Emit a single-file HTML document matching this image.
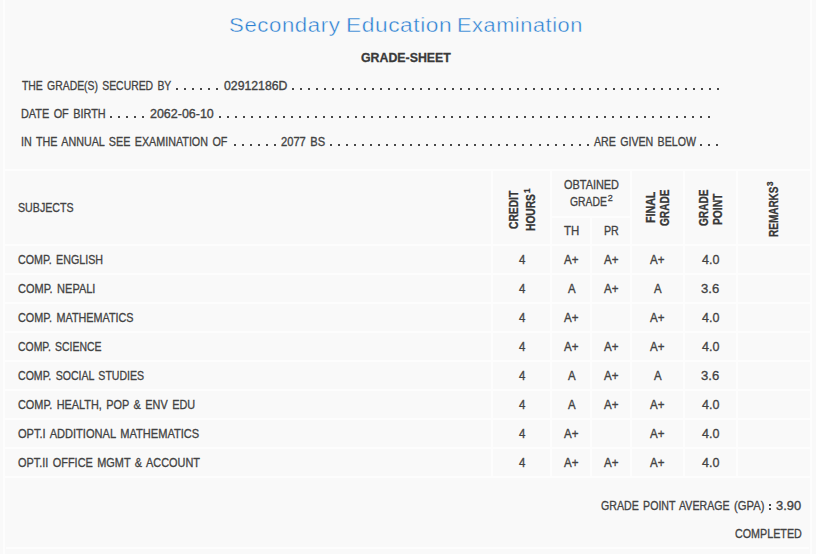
<!DOCTYPE html>
<html>
<head>
<meta charset="utf-8">
<style>
html,body{margin:0;padding:0;}
body{width:816px;height:554px;overflow:hidden;background:#f9f9f9;font-family:"Liberation Sans",sans-serif;position:relative;}
.t{position:absolute;white-space:nowrap;transform-origin:0 0;word-spacing:1.6px;-webkit-text-stroke:0.3px;}
.b{position:absolute;background:#fdfdfd;}
</style>
</head>
<body>
<!-- frame lines -->
<div class="b" style="left:3px;top:0;width:2px;height:554px"></div>
<div class="b" style="left:810px;top:0;width:2px;height:554px"></div>
<div class="b" style="left:6px;top:546.5px;width:803px;height:2px"></div>
<!-- table borders -->
<div class="b" style="left:5px;top:169px;width:805px;height:2px"></div>
<div class="b" style="left:5px;top:244px;width:805px;height:2px"></div>
<div class="b" style="left:5px;top:273px;width:805px;height:2px"></div>
<div class="b" style="left:5px;top:302px;width:805px;height:2px"></div>
<div class="b" style="left:5px;top:331px;width:805px;height:2px"></div>
<div class="b" style="left:5px;top:360px;width:805px;height:2px"></div>
<div class="b" style="left:5px;top:389px;width:805px;height:2px"></div>
<div class="b" style="left:5px;top:418px;width:805px;height:2px"></div>
<div class="b" style="left:5px;top:447px;width:805px;height:2px"></div>
<div class="b" style="left:5px;top:476px;width:805px;height:2px"></div>
<div class="b" style="left:551px;top:216px;width:81px;height:2px"></div>
<div class="b" style="left:491px;top:170px;width:2px;height:308px"></div>
<div class="b" style="left:550px;top:170px;width:2px;height:308px"></div>
<div class="b" style="left:590px;top:217px;width:2px;height:261px"></div>
<div class="b" style="left:630px;top:170px;width:2px;height:308px"></div>
<div class="b" style="left:683px;top:170px;width:2px;height:308px"></div>
<div class="b" style="left:736px;top:170px;width:2px;height:308px"></div>
<svg style="position:absolute;left:0;top:0" width="816" height="554" shape-rendering="crispEdges"><path fill="#484848" d="M176 88h2v2h-2zM184 88h2v2h-2zM192 88h2v2h-2zM200 88h2v2h-2zM208 88h2v2h-2zM216 88h2v2h-2zM292 88h2v2h-2zM300 88h2v2h-2zM308 88h2v2h-2zM316 88h2v2h-2zM324 88h2v2h-2zM332 88h2v2h-2zM340 88h2v2h-2zM348 88h2v2h-2zM356 88h2v2h-2zM364 88h2v2h-2zM372 88h2v2h-2zM380 88h2v2h-2zM388 88h2v2h-2zM396 88h2v2h-2zM404 88h2v2h-2zM412 88h2v2h-2zM420 88h2v2h-2zM428 88h2v2h-2zM436 88h2v2h-2zM444 88h2v2h-2zM452 88h2v2h-2zM460 88h2v2h-2zM468 88h2v2h-2zM476 88h2v2h-2zM484 88h2v2h-2zM492 88h2v2h-2zM501 88h2v2h-2zM509 88h2v2h-2zM517 88h2v2h-2zM525 88h2v2h-2zM533 88h2v2h-2zM541 88h2v2h-2zM549 88h2v2h-2zM557 88h2v2h-2zM565 88h2v2h-2zM573 88h2v2h-2zM581 88h2v2h-2zM589 88h2v2h-2zM597 88h2v2h-2zM605 88h2v2h-2zM613 88h2v2h-2zM621 88h2v2h-2zM629 88h2v2h-2zM637 88h2v2h-2zM645 88h2v2h-2zM653 88h2v2h-2zM661 88h2v2h-2zM669 88h2v2h-2zM677 88h2v2h-2zM685 88h2v2h-2zM693 88h2v2h-2zM701 88h2v2h-2zM709 88h2v2h-2zM717 88h2v2h-2zM110 116h2v2h-2zM118 116h2v2h-2zM126 116h2v2h-2zM134 116h2v2h-2zM142 116h2v2h-2zM219 116h2v2h-2zM227 116h2v2h-2zM235 116h2v2h-2zM243 116h2v2h-2zM251 116h2v2h-2zM259 116h2v2h-2zM267 116h2v2h-2zM275 116h2v2h-2zM283 116h2v2h-2zM291 116h2v2h-2zM299 116h2v2h-2zM307 116h2v2h-2zM315 116h2v2h-2zM323 116h2v2h-2zM331 116h2v2h-2zM339 116h2v2h-2zM347 116h2v2h-2zM355 116h2v2h-2zM363 116h2v2h-2zM371 116h2v2h-2zM379 116h2v2h-2zM387 116h2v2h-2zM395 116h2v2h-2zM403 116h2v2h-2zM411 116h2v2h-2zM419 116h2v2h-2zM427 116h2v2h-2zM435 116h2v2h-2zM443 116h2v2h-2zM451 116h2v2h-2zM459 116h2v2h-2zM467 116h2v2h-2zM476 116h2v2h-2zM484 116h2v2h-2zM492 116h2v2h-2zM500 116h2v2h-2zM508 116h2v2h-2zM516 116h2v2h-2zM524 116h2v2h-2zM532 116h2v2h-2zM540 116h2v2h-2zM548 116h2v2h-2zM556 116h2v2h-2zM564 116h2v2h-2zM572 116h2v2h-2zM580 116h2v2h-2zM588 116h2v2h-2zM596 116h2v2h-2zM604 116h2v2h-2zM612 116h2v2h-2zM620 116h2v2h-2zM628 116h2v2h-2zM636 116h2v2h-2zM644 116h2v2h-2zM652 116h2v2h-2zM660 116h2v2h-2zM668 116h2v2h-2zM676 116h2v2h-2zM684 116h2v2h-2zM692 116h2v2h-2zM700 116h2v2h-2zM708 116h2v2h-2zM234 144h2v2h-2zM242 144h2v2h-2zM250 144h2v2h-2zM258 144h2v2h-2zM266 144h2v2h-2zM274 144h2v2h-2zM330 144h2v2h-2zM338 144h2v2h-2zM346 144h2v2h-2zM354 144h2v2h-2zM362 144h2v2h-2zM370 144h2v2h-2zM378 144h2v2h-2zM386 144h2v2h-2zM394 144h2v2h-2zM402 144h2v2h-2zM410 144h2v2h-2zM418 144h2v2h-2zM426 144h2v2h-2zM434 144h2v2h-2zM442 144h2v2h-2zM450 144h2v2h-2zM458 144h2v2h-2zM466 144h2v2h-2zM474 144h2v2h-2zM482 144h2v2h-2zM490 144h2v2h-2zM498 144h2v2h-2zM506 144h2v2h-2zM514 144h2v2h-2zM522 144h2v2h-2zM530 144h2v2h-2zM539 144h2v2h-2zM547 144h2v2h-2zM555 144h2v2h-2zM563 144h2v2h-2zM571 144h2v2h-2zM579 144h2v2h-2zM587 144h2v2h-2zM700 144h2v2h-2zM708 144h2v2h-2zM716 144h2v2h-2zM769 504h2v2h-2zM769 508h2v2h-2z"/></svg>
<span class="t" style="left:229.18px;top:15px;font-size:20px;line-height:20px;color:#2b7fd2;letter-spacing:0.5px;-webkit-text-stroke:0.4px #f9f9f9;transform:scaleX(1.1118);">Secondary</span>
<span class="t" style="left:346.34px;top:15px;font-size:20px;line-height:20px;color:#2b7fd2;letter-spacing:0.5px;-webkit-text-stroke:0.4px #f9f9f9;transform:scaleX(1.1372);">Education</span>
<span class="t" style="left:456.84px;top:15px;font-size:20px;line-height:20px;color:#2b7fd2;letter-spacing:0.5px;-webkit-text-stroke:0.4px #f9f9f9;transform:scaleX(1.0889);">Examination</span>
<span class="t" style="left:361.00px;top:51px;font-size:13px;line-height:13px;color:#3a3a3a;font-weight:bold;transform:scaleX(0.9500);">GRADE-SHEET</span>
<span class="t" style="left:22.00px;top:80px;font-size:12px;line-height:12px;color:#434343;transform:scaleX(0.8671);">THE GRADE(S) SECURED BY</span>
<span class="t" style="left:223.89px;top:80px;font-size:12px;line-height:12px;color:#434343;-webkit-text-stroke:0.33px;transform:scaleX(1.0218);">02912186D</span>
<span class="t" style="left:21.15px;top:108px;font-size:12px;line-height:12px;color:#434343;transform:scaleX(0.9060);">DATE OF BIRTH</span>
<span class="t" style="left:149.65px;top:108px;font-size:12px;line-height:12px;color:#434343;-webkit-text-stroke:0.33px;transform:scaleX(1.0386);">2062-06-10</span>
<span class="t" style="left:21.30px;top:136px;font-size:12px;line-height:12px;color:#434343;transform:scaleX(0.8951);">IN THE ANNUAL SEE EXAMINATION OF</span>
<span class="t" style="left:281.33px;top:136px;font-size:12px;line-height:12px;color:#434343;-webkit-text-stroke:0.33px;transform:scaleX(0.9281);">2077 BS</span>
<span class="t" style="left:593.50px;top:136px;font-size:12px;line-height:12px;color:#434343;transform:scaleX(0.8845);">ARE GIVEN BELOW</span>
<span class="t" style="left:18.28px;top:202px;font-size:12px;line-height:12px;color:#434343;transform:scaleX(0.8867);">SUBJECTS</span>
<span class="t" style="left:17.82px;top:254px;font-size:12px;line-height:12px;color:#434343;transform:scaleX(0.8920);">COMP. ENGLISH</span>
<span class="t" style="left:518.80px;top:254px;font-size:12px;line-height:12px;color:#434343;-webkit-text-stroke:0.33px;transform:scaleX(0.9500);">4</span>
<span class="t" style="left:564.15px;top:254px;font-size:12px;line-height:12px;color:#434343;-webkit-text-stroke:0.33px;transform:scaleX(0.9595);">A+</span>
<span class="t" style="left:604.15px;top:254px;font-size:12px;line-height:12px;color:#434343;-webkit-text-stroke:0.33px;transform:scaleX(0.9595);">A+</span>
<span class="t" style="left:650.15px;top:254px;font-size:12px;line-height:12px;color:#434343;-webkit-text-stroke:0.33px;transform:scaleX(0.9595);">A+</span>
<span class="t" style="left:701.50px;top:254px;font-size:12px;line-height:12px;color:#434343;-webkit-text-stroke:0.3px;transform:scaleX(1.0435);">4.0</span>
<span class="t" style="left:17.95px;top:283px;font-size:12px;line-height:12px;color:#434343;transform:scaleX(0.9158);">COMP. NEPALI</span>
<span class="t" style="left:518.80px;top:283px;font-size:12px;line-height:12px;color:#434343;-webkit-text-stroke:0.33px;transform:scaleX(0.9500);">4</span>
<span class="t" style="left:567.90px;top:283px;font-size:12px;line-height:12px;color:#434343;-webkit-text-stroke:0.33px;transform:scaleX(0.9500);">A</span>
<span class="t" style="left:604.15px;top:283px;font-size:12px;line-height:12px;color:#434343;-webkit-text-stroke:0.33px;transform:scaleX(0.9595);">A+</span>
<span class="t" style="left:653.90px;top:283px;font-size:12px;line-height:12px;color:#434343;-webkit-text-stroke:0.33px;transform:scaleX(0.9500);">A</span>
<span class="t" style="left:701.16px;top:283px;font-size:12px;line-height:12px;color:#434343;-webkit-text-stroke:0.3px;transform:scaleX(1.0914);">3.6</span>
<span class="t" style="left:17.92px;top:312px;font-size:12px;line-height:12px;color:#434343;transform:scaleX(0.9008);">COMP. MATHEMATICS</span>
<span class="t" style="left:518.80px;top:312px;font-size:12px;line-height:12px;color:#434343;-webkit-text-stroke:0.33px;transform:scaleX(0.9500);">4</span>
<span class="t" style="left:564.15px;top:312px;font-size:12px;line-height:12px;color:#434343;-webkit-text-stroke:0.33px;transform:scaleX(0.9595);">A+</span>
<span class="t" style="left:650.15px;top:312px;font-size:12px;line-height:12px;color:#434343;-webkit-text-stroke:0.33px;transform:scaleX(0.9595);">A+</span>
<span class="t" style="left:701.50px;top:312px;font-size:12px;line-height:12px;color:#434343;-webkit-text-stroke:0.3px;transform:scaleX(1.0435);">4.0</span>
<span class="t" style="left:17.71px;top:341px;font-size:12px;line-height:12px;color:#434343;transform:scaleX(0.8689);">COMP. SCIENCE</span>
<span class="t" style="left:518.80px;top:341px;font-size:12px;line-height:12px;color:#434343;-webkit-text-stroke:0.33px;transform:scaleX(0.9500);">4</span>
<span class="t" style="left:564.15px;top:341px;font-size:12px;line-height:12px;color:#434343;-webkit-text-stroke:0.33px;transform:scaleX(0.9595);">A+</span>
<span class="t" style="left:604.15px;top:341px;font-size:12px;line-height:12px;color:#434343;-webkit-text-stroke:0.33px;transform:scaleX(0.9595);">A+</span>
<span class="t" style="left:650.15px;top:341px;font-size:12px;line-height:12px;color:#434343;-webkit-text-stroke:0.33px;transform:scaleX(0.9595);">A+</span>
<span class="t" style="left:701.50px;top:341px;font-size:12px;line-height:12px;color:#434343;-webkit-text-stroke:0.3px;transform:scaleX(1.0435);">4.0</span>
<span class="t" style="left:17.82px;top:370px;font-size:12px;line-height:12px;color:#434343;transform:scaleX(0.8808);">COMP. SOCIAL STUDIES</span>
<span class="t" style="left:518.80px;top:370px;font-size:12px;line-height:12px;color:#434343;-webkit-text-stroke:0.33px;transform:scaleX(0.9500);">4</span>
<span class="t" style="left:567.90px;top:370px;font-size:12px;line-height:12px;color:#434343;-webkit-text-stroke:0.33px;transform:scaleX(0.9500);">A</span>
<span class="t" style="left:604.15px;top:370px;font-size:12px;line-height:12px;color:#434343;-webkit-text-stroke:0.33px;transform:scaleX(0.9595);">A+</span>
<span class="t" style="left:653.90px;top:370px;font-size:12px;line-height:12px;color:#434343;-webkit-text-stroke:0.33px;transform:scaleX(0.9500);">A</span>
<span class="t" style="left:701.16px;top:370px;font-size:12px;line-height:12px;color:#434343;-webkit-text-stroke:0.3px;transform:scaleX(1.0914);">3.6</span>
<span class="t" style="left:17.69px;top:399px;font-size:12px;line-height:12px;color:#434343;transform:scaleX(0.9067);">COMP. HEALTH, POP &amp; ENV EDU</span>
<span class="t" style="left:518.80px;top:399px;font-size:12px;line-height:12px;color:#434343;-webkit-text-stroke:0.33px;transform:scaleX(0.9500);">4</span>
<span class="t" style="left:567.90px;top:399px;font-size:12px;line-height:12px;color:#434343;-webkit-text-stroke:0.33px;transform:scaleX(0.9500);">A</span>
<span class="t" style="left:604.15px;top:399px;font-size:12px;line-height:12px;color:#434343;-webkit-text-stroke:0.33px;transform:scaleX(0.9595);">A+</span>
<span class="t" style="left:650.15px;top:399px;font-size:12px;line-height:12px;color:#434343;-webkit-text-stroke:0.33px;transform:scaleX(0.9595);">A+</span>
<span class="t" style="left:701.50px;top:399px;font-size:12px;line-height:12px;color:#434343;-webkit-text-stroke:0.3px;transform:scaleX(1.0435);">4.0</span>
<span class="t" style="left:18.04px;top:428px;font-size:12px;line-height:12px;color:#434343;transform:scaleX(0.9229);">OPT.I ADDITIONAL MATHEMATICS</span>
<span class="t" style="left:518.80px;top:428px;font-size:12px;line-height:12px;color:#434343;-webkit-text-stroke:0.33px;transform:scaleX(0.9500);">4</span>
<span class="t" style="left:564.15px;top:428px;font-size:12px;line-height:12px;color:#434343;-webkit-text-stroke:0.33px;transform:scaleX(0.9595);">A+</span>
<span class="t" style="left:650.15px;top:428px;font-size:12px;line-height:12px;color:#434343;-webkit-text-stroke:0.33px;transform:scaleX(0.9595);">A+</span>
<span class="t" style="left:701.50px;top:428px;font-size:12px;line-height:12px;color:#434343;-webkit-text-stroke:0.3px;transform:scaleX(1.0435);">4.0</span>
<span class="t" style="left:17.90px;top:457px;font-size:12px;line-height:12px;color:#434343;transform:scaleX(0.9089);">OPT.II OFFICE MGMT &amp; ACCOUNT</span>
<span class="t" style="left:518.80px;top:457px;font-size:12px;line-height:12px;color:#434343;-webkit-text-stroke:0.33px;transform:scaleX(0.9500);">4</span>
<span class="t" style="left:564.15px;top:457px;font-size:12px;line-height:12px;color:#434343;-webkit-text-stroke:0.33px;transform:scaleX(0.9595);">A+</span>
<span class="t" style="left:604.15px;top:457px;font-size:12px;line-height:12px;color:#434343;-webkit-text-stroke:0.33px;transform:scaleX(0.9595);">A+</span>
<span class="t" style="left:650.15px;top:457px;font-size:12px;line-height:12px;color:#434343;-webkit-text-stroke:0.33px;transform:scaleX(0.9595);">A+</span>
<span class="t" style="left:701.50px;top:457px;font-size:12px;line-height:12px;color:#434343;-webkit-text-stroke:0.3px;transform:scaleX(1.0435);">4.0</span>
<span class="t" style="left:564.39px;top:179px;font-size:12px;line-height:12px;color:#434343;transform:scaleX(0.9100);">OBTAINED</span>
<span class="t" style="left:570.10px;top:196px;font-size:12px;line-height:12px;color:#434343;transform:scaleX(0.8656);">GRADE</span>
<span class="t" style="left:564.26px;top:225px;font-size:12px;line-height:12px;color:#434343;transform:scaleX(0.9530);">TH</span>
<span class="t" style="left:604.15px;top:225px;font-size:12px;line-height:12px;color:#434343;transform:scaleX(0.8882);">PR</span>
<span class="t" style="left:601.08px;top:500px;font-size:12px;line-height:12px;color:#434343;transform:scaleX(0.8839);">GRADE POINT AVERAGE</span>
<span class="t" style="left:733.98px;top:500px;font-size:12px;line-height:12px;color:#434343;transform:scaleX(0.9371);">(GPA)</span>
<span class="t" style="left:776.25px;top:500px;font-size:12px;line-height:12px;color:#434343;-webkit-text-stroke:0.33px;transform:scaleX(1.0726);">3.90</span>
<span class="t" style="left:734.68px;top:528px;font-size:12px;line-height:12px;color:#434343;transform:scaleX(0.8945);">COMPLETED</span>
<span class="t" style="left:607.78px;top:194px;font-size:9px;line-height:9px;color:#434343;transform:scaleX(1.0000);">2</span>
<span class="t" style="left:508px;top:228.63px;font-size:12px;line-height:12px;color:#363636;font-weight:bold;transform:rotate(-90deg) scaleX(0.8561);">CREDIT</span>
<span class="t" style="left:525px;top:231.35px;font-size:12px;line-height:12px;color:#363636;font-weight:bold;transform:rotate(-90deg) scaleX(0.8512);">HOURS</span>
<span class="t" style="left:523px;top:192.90px;font-size:9px;line-height:9px;color:#363636;font-weight:bold;transform:rotate(-90deg) scaleX(0.9000);">1</span>
<span class="t" style="left:645px;top:223.09px;font-size:12px;line-height:12px;color:#363636;font-weight:bold;transform:rotate(-90deg) scaleX(0.8879);">FINAL</span>
<span class="t" style="left:659px;top:226.43px;font-size:12px;line-height:12px;color:#363636;font-weight:bold;transform:rotate(-90deg) scaleX(0.8430);">GRADE</span>
<span class="t" style="left:698px;top:226.43px;font-size:12px;line-height:12px;color:#363636;font-weight:bold;transform:rotate(-90deg) scaleX(0.8430);">GRADE</span>
<span class="t" style="left:712px;top:225.10px;font-size:12px;line-height:12px;color:#363636;font-weight:bold;transform:rotate(-90deg) scaleX(0.8554);">POINT</span>
<span class="t" style="left:768px;top:237.40px;font-size:12px;line-height:12px;color:#363636;font-weight:bold;transform:rotate(-90deg) scaleX(0.8324);">REMARKS</span>
<span class="t" style="left:766px;top:185.83px;font-size:9px;line-height:9px;color:#363636;font-weight:bold;transform:rotate(-90deg) scaleX(0.9000);">3</span>
</body>
</html>
